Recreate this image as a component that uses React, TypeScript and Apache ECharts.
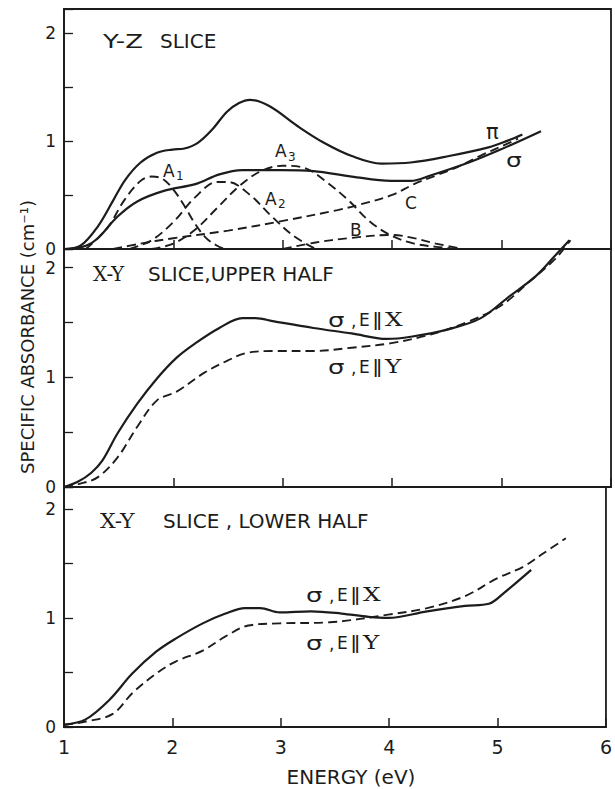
import React, { useEffect, useRef } from "react";
import * as echarts from "echarts";

// ---- Data (energy eV, specific absorbance cm^-1) ----
const xTicks = [1, 2, 3, 4, 5, 6];
const yLabelValues = [0, 1, 2];

// Panel 1: Y-Z slice
const yzPi: number[][] = [
  [1.0, 0], [1.15, 0.03], [1.31, 0.21], [1.45, 0.45], [1.56, 0.64], [1.7, 0.8],
  [1.85, 0.89], [1.99, 0.92], [2.1, 0.93], [2.22, 0.98], [2.35, 1.1], [2.49, 1.27],
  [2.6, 1.35], [2.7, 1.38], [2.88, 1.32], [3.13, 1.14], [3.38, 0.98], [3.63, 0.86],
  [3.9, 0.79], [4.17, 0.8], [4.52, 0.86], [4.88, 0.94], [5.05, 1.0], [5.19, 1.06],
];
const yzSigma: number[][] = [
  [1.05, 0], [1.2, 0.03], [1.31, 0.1], [1.49, 0.3], [1.67, 0.44], [1.92, 0.54],
  [2.2, 0.6], [2.42, 0.69], [2.63, 0.73], [2.99, 0.73], [3.28, 0.72], [3.63, 0.67],
  [3.99, 0.63], [4.17, 0.63], [4.35, 0.68], [4.7, 0.8], [4.99, 0.92], [5.36, 1.09],
];
const yzA1: number[][] = [
  [1.2, 0], [1.4, 0.2], [1.55, 0.45], [1.7, 0.63], [1.8, 0.67], [1.9, 0.65],
  [2.0, 0.55], [2.1, 0.4], [2.2, 0.23], [2.3, 0.1], [2.4, 0.03], [2.47, 0],
];
const yzA2: number[][] = [
  [1.6, 0], [1.8, 0.08], [2.0, 0.25], [2.2, 0.48], [2.4, 0.62], [2.5, 0.62],
  [2.7, 0.5], [2.9, 0.3], [3.1, 0.12], [3.3, 0],
];
const yzA3: number[][] = [
  [1.8, 0], [2.0, 0.05], [2.2, 0.18], [2.4, 0.38], [2.6, 0.58], [2.8, 0.72],
  [3.0, 0.77], [3.2, 0.75], [3.4, 0.62], [3.6, 0.45], [3.8, 0.25], [4.0, 0.12],
  [4.2, 0.05], [4.4, 0.02], [4.6, 0],
];
const yzB: number[][] = [
  [3.0, 0], [3.3, 0.06], [3.6, 0.1], [4.0, 0.13], [4.2, 0.1], [4.4, 0.05], [4.65, 0],
];
const yzC: number[][] = [
  [1.45, 0], [1.7, 0.05], [2.0, 0.1], [2.5, 0.17], [3.0, 0.26], [3.5, 0.36],
  [3.7, 0.41], [4.0, 0.5], [4.2, 0.6], [4.4, 0.68], [4.6, 0.76], [4.8, 0.86],
  [5.0, 0.95], [5.15, 1.02],
];

// Panel 2: X-Y slice, upper half
const upperX: number[][] = [
  [1.0, 0], [1.13, 0.05], [1.25, 0.13], [1.35, 0.24], [1.49, 0.49], [1.67, 0.76],
  [1.85, 0.99], [2.03, 1.18], [2.2, 1.31], [2.42, 1.45], [2.63, 1.54], [2.75, 1.54],
  [2.92, 1.51], [3.28, 1.45], [3.63, 1.4], [3.95, 1.35], [4.17, 1.37], [4.52, 1.44],
  [4.81, 1.54], [5.06, 1.73], [5.31, 1.92], [5.49, 2.11], [5.62, 2.25],
];
const upperY: number[][] = [
  [1.0, 0], [1.15, 0.03], [1.31, 0.09], [1.49, 0.27], [1.67, 0.55], [1.85, 0.79],
  [2.03, 0.87], [2.28, 1.04], [2.49, 1.15], [2.66, 1.22], [2.91, 1.24], [3.28, 1.24],
  [3.63, 1.27], [3.98, 1.31], [4.35, 1.39], [4.7, 1.51], [4.99, 1.65], [5.24, 1.86],
  [5.49, 2.08], [5.63, 2.25],
];

// Panel 3: X-Y slice, lower half
const lowerX: number[][] = [
  [1.0, 0.02], [1.2, 0.07], [1.42, 0.25], [1.63, 0.49], [1.85, 0.69], [2.03, 0.81],
  [2.28, 0.95], [2.49, 1.04], [2.67, 1.09], [2.81, 1.09], [2.99, 1.05], [3.28, 1.06],
  [3.56, 1.04], [3.81, 1.01], [3.99, 1.0], [4.35, 1.06], [4.7, 1.11], [4.92, 1.13],
  [5.06, 1.23], [5.31, 1.44],
];
const lowerY: number[][] = [
  [1.0, 0.02], [1.2, 0.05], [1.45, 0.12], [1.63, 0.31], [1.85, 0.49], [2.03, 0.6],
  [2.28, 0.7], [2.49, 0.83], [2.7, 0.93], [2.99, 0.95], [3.45, 0.96], [3.99, 1.03],
  [4.35, 1.09], [4.7, 1.2], [4.99, 1.36], [5.24, 1.47], [5.42, 1.59], [5.63, 1.73],
];

const INK = "#1c1c1c";
const SANS = "DejaVu Sans";
const SERIF = "DejaVu Serif";

const grids = [
  { top: 9, height: 240, max: 2.22 },
  { top: 249, height: 238, max: 2.17 },
  { top: 487, height: 240, max: 2.2 },
];

function solid(data: number[][], i: number, clip = true) {
  return {
    type: "line", xAxisIndex: i, yAxisIndex: i, data, showSymbol: false,
    smooth: 0.35, clip, silent: true,
    lineStyle: { color: INK, width: 2.2 },
  };
}
function dashed(data: number[][], i: number, clip = true) {
  return {
    type: "line", xAxisIndex: i, yAxisIndex: i, data, showSymbol: false,
    smooth: 0.35, clip, silent: true,
    lineStyle: { color: INK, width: 1.9, type: [9, 5] },
  };
}

function txt(x: number, y: number, text: string, size: number, font = SANS, extra: any = {}, sx = 1) {
  return {
    type: "text", x, y, scaleX: sx,
    style: { text, fill: INK, fontSize: size, fontFamily: font, align: "left", verticalAlign: "middle", ...extra },
  };
}

function sigmaLabel(x: number, y: number, axis: string) {
  return {
    type: "group", x, y,
    children: [
      txt(0, 0, "σ", 20, SANS, {}, 1.3),
      txt(23, 1, ",", 17, SANS),
      txt(31, 0, "E", 17, SANS),
      txt(44, 0, "‖", 18, SANS, {}, 1.2),
      txt(57, 0, axis, 19, SERIF, {}, 1.3),
    ],
  };
}

export default function App() {
  const ref = useRef<HTMLDivElement>(null);
  useEffect(() => {
    if (!ref.current) return;
    const chart = echarts.init(ref.current, null, { renderer: "svg" });
    const option: any = {
      animation: false,
      backgroundColor: "#ffffff",
      grid: grids.map((g) => ({
        left: 64, right: 4, top: g.top, height: g.height, show: true,
        borderColor: INK, borderWidth: 1.8, backgroundColor: "transparent",
      })),
      xAxis: grids.map((_, i) => ({
        gridIndex: i, type: "value", min: xTicks[0], max: xTicks[xTicks.length - 1], interval: 1,
        axisLine: { show: true, onZero: false, lineStyle: { color: INK, width: 1.8 } },
        axisTick: { show: true, inside: true, length: 9, lineStyle: { color: INK, width: 1.5 } },
        axisLabel: {
          show: i === 2, margin: 10, color: INK, fontFamily: SANS, fontSize: 19,
          formatter: (v: number) => (xTicks.includes(v) ? String(v) : ""),
        },
        splitLine: { show: false },
      })),
      yAxis: grids.map((g, i) => ({
        gridIndex: i, type: "value", min: 0, max: g.max, interval: 0.5,
        axisLine: { show: true, lineStyle: { color: INK, width: 1.8 } },
        axisTick: { show: true, inside: true, length: 9, lineStyle: { color: INK, width: 1.3 } },
        axisLabel: {
          margin: 8, color: INK, fontFamily: SANS, fontSize: 17,
          formatter: (v: number) => (yLabelValues.includes(v) ? String(v) : ""),
        },
        splitLine: { show: false },
      })),
      series: [
        solid(yzPi, 0), solid(yzSigma, 0),
        dashed(yzA1, 0), dashed(yzA2, 0), dashed(yzA3, 0), dashed(yzB, 0), dashed(yzC, 0),
        solid(upperX, 1, false), dashed(upperY, 1, false),
        solid(lowerX, 2), dashed(lowerY, 2),
      ],
      graphic: [
        // panel titles
        txt(103, 41, "Y-Z", 20, SANS, {}, 1.3),
        txt(160, 41, "SLICE", 20, SANS),
        txt(93, 274, "X-Y", 20, SERIF),
        txt(148, 274, "SLICE,UPPER HALF", 20, SANS),
        txt(100, 521, "X-Y", 20, SERIF, {}, 1.1),
        txt(163, 521, "SLICE , LOWER HALF", 20, SANS),
        // component labels (Y-Z slice)
        txt(163, 171, "A", 17), txt(176, 176, "1", 12),
        txt(265, 199, "A", 17), txt(278, 204, "2", 12),
        txt(275, 151, "A", 17), txt(288, 157, "3", 12),
        txt(350, 230, "B", 17),
        txt(405, 203, "C", 17),
        txt(486, 132, "π", 21, SANS),
        txt(506, 160, "σ", 20, SANS, {}, 1.25),
        // polarisation labels
        sigmaLabel(328, 320, "X"),
        sigmaLabel(328, 367, "Y"),
        sigmaLabel(306, 595, "X"),
        sigmaLabel(306, 643, "Y"),
        // axis titles
        {
          type: "text", x: 27, y: 337, rotation: Math.PI / 2,
          style: { text: "SPECIFIC ABSORBANCE (cm⁻¹)", fill: INK, fontSize: 18, fontFamily: SANS, align: "center", verticalAlign: "middle" },
        },
        {
          type: "text", x: 351, y: 777,
          style: { text: "ENERGY (eV)", fill: INK, fontSize: 20, fontFamily: SANS, align: "center", verticalAlign: "middle" },
        },
      ],
    };
    chart.setOption(option);
    return () => chart.dispose();
  }, []);
  return (
    <div
      ref={ref}
      style={{ position: "fixed", left: 0, top: 0, width: 615, height: 789, background: "#fff" }}
    />
  );
}
